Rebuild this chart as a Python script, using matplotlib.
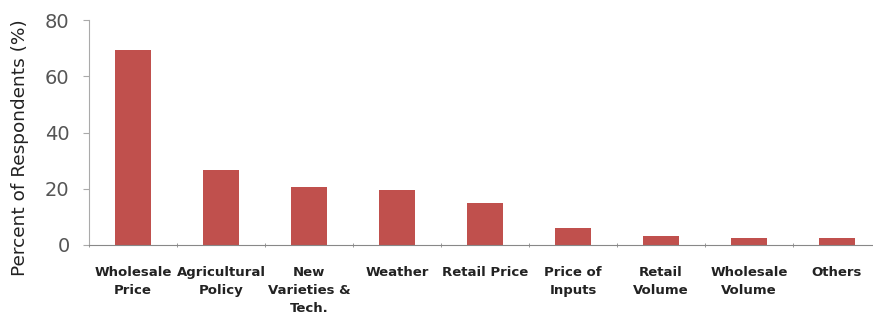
import matplotlib.pyplot as plt
import numpy as np

categories = ["Wholesale\nPrice", "Agricultural\nPolicy", "New\nVarieties &\nTech.",
              "Weather", "Retail Price", "Price of\nInputs", "Retail\nVolume",
              "Wholesale\nVolume", "Others"]
percent = [69.5, 26.7, 20.8, 19.5, 14.8, 6.0, 3.1, 2.4, 2.4]
yticks = [0, 20, 40, 60, 80]

fig = plt.figure(figsize=(8.73, 3.23), dpi=100)
# right edge runs a bit past the image, like the original
ax = fig.add_axes([89 / 873, 78 / 323, 792 / 873, 225 / 323])

x = np.arange(len(categories))
ax.bar(x, percent, width=0.41, color="#C0504D", zorder=2)

ax.set_xlim(-0.5, len(categories) - 0.5)
ax.set_ylim(0, 80)
ax.set_yticks(yticks)
ax.set_yticklabels([str(v) for v in yticks], fontsize=14, color="#555555")

ax.set_xticks(x)
ax.set_xticklabels(categories, fontsize=9.5, fontweight="bold", color="#222222",
                   linespacing=1.5, va="top")
ax.tick_params(axis="x", length=0, pad=15)
ax.set_xticks(np.arange(len(categories) + 1) - 0.5, minor=True)
ax.tick_params(axis="x", which="minor", length=3, direction="inout", color="#888888")
ax.tick_params(axis="y", length=4, color="#aaaaaa", pad=10)

ax.set_ylabel("Percent of Respondents (%)", fontsize=13.3, color="#222222")
ax.yaxis.set_label_coords(-0.076, 0.435)

for side in ["top", "right"]:
    ax.spines[side].set_visible(False)
ax.spines["left"].set_color("#aaaaaa")
ax.spines["bottom"].set_color("#888888")

fig.savefig("out.png", dpi=100)
